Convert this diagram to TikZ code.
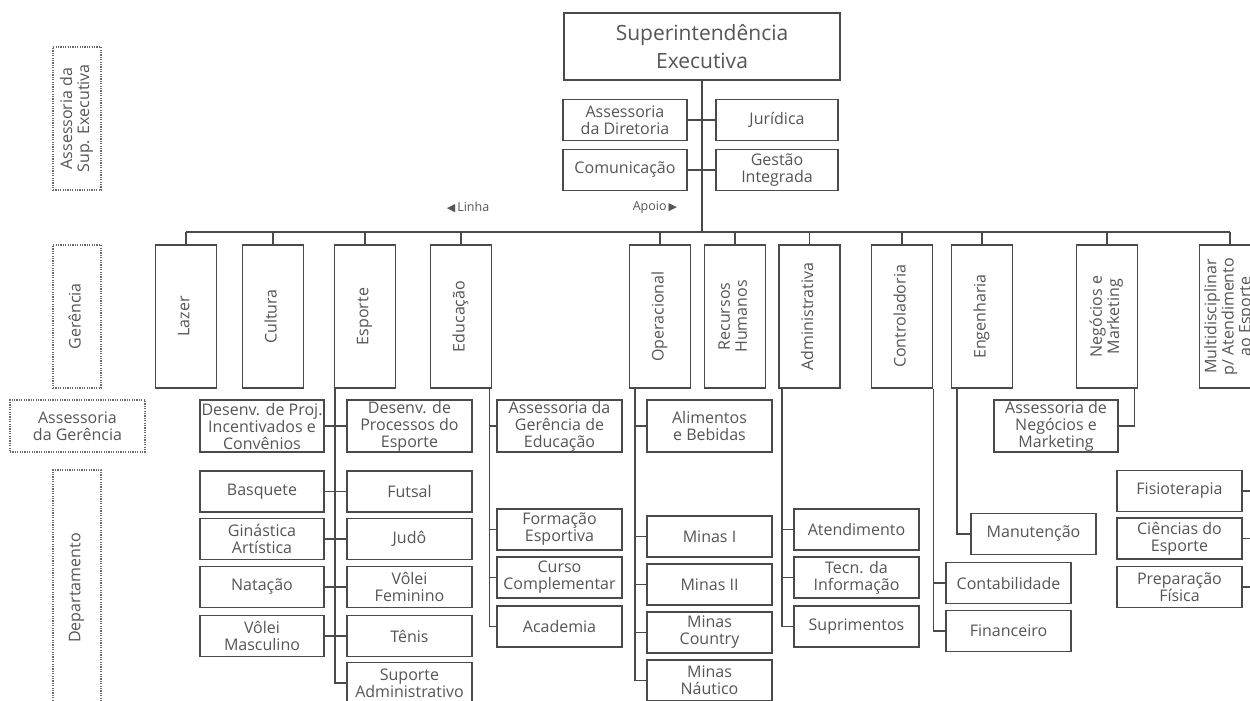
\documentclass[tikz,border=0pt]{standalone}
\usepackage{fontspec}
\setmainfont{Open Sans}
\newfontfamily\symfont{DejaVu Sans}
\usetikzlibrary{calc}
\definecolor{ln}{HTML}{4A4A4A}
\definecolor{tx}{HTML}{555555}
\definecolor{dt}{HTML}{6A6A6A}
\newcommand{\vtext}[1]{\rotatebox{90}{\begin{tabular}{@{}c@{}}#1\end{tabular}}}
\begin{document}
\begin{tikzpicture}[x=1pt,y=-1pt,
  conn/.style={draw=ln,line width=1.9pt},
  box/.style={draw=ln,line width=1.9pt,fill=white,rectangle,inner sep=1pt,align=center,text=tx,
    font=\fontsize{16}{17}\selectfont,minimum width=124pt,minimum height=41pt},
  tallbox/.style={box,minimum height=52pt},
  gbox/.style={box,minimum width=61pt,minimum height=143pt},
  topbox/.style={box,minimum width=276pt,minimum height=67pt,font=\fontsize{21}{28}\selectfont},
  lab/.style={draw=dt,line width=1.4pt,dash pattern=on 1.2pt off 1.2pt,rectangle,inner sep=1pt,align=center,text=tx,
    font=\fontsize{16}{17}\selectfont},
  small/.style={text=tx,inner sep=0pt,font=\fontsize{12.5}{14}\selectfont}]
\useasboundingbox (0,0) rectangle (1250,701);
\clip (0,0) rectangle (1250,701);

% left level labels
\node[lab,minimum width=48pt,minimum height=143pt] (lsup) at (77,118.5) {\vtext{Assessoria da\\Sup. Executiva}};
\node[lab,minimum width=48pt,minimum height=143pt] (lger) at (77,316.5) {\vtext{Gerência}};
\node[lab,minimum width=135pt,minimum height=52pt] (lass) at (77.5,426) {Assessoria\\da Gerência};
\node[lab,minimum width=48pt,minimum height=236pt] (ldep) at (77,588) {\vtext{Departamento}};

% top
\node[topbox] (sup) at (702,46.5) {Superintendência\\Executiva};
\node[box] (ad) at (625,120) {Assessoria\\da Diretoria};
\node[box,minimum width=122pt] (jur) at (777,120) {Jurídica};
\node[box] (com) at (625,170) {Comunicação};
\node[box,minimum width=122pt] (gi) at (777,170) {Gestão\\Integrada};

\node[small] (linha) at (468,207) {{\symfont\fontsize{11}{11}\selectfont ◀}\,Linha};
\node[small] (apoio) at (655,207) {Apoio\,{\symfont\fontsize{11}{11}\selectfont ▶}};

% gerencias
\node[gbox] (lazer) at (186,316.5) {\vtext{Lazer}};
\node[gbox] (cultura) at (273,316.5) {\vtext{Cultura}};
\node[gbox] (esp) at (365,316.5) {\vtext{Esporte}};
\node[gbox] (edu) at (461,316.5) {\vtext{Educação}};
\node[gbox] (op) at (660,316.5) {\vtext{Operacional}};
\node[gbox] (rh) at (735,316.5) {\vtext{Recursos\\Humanos}};
\node[gbox] (adm) at (809.5,316.5) {\vtext{Administrativa}};
\node[gbox] (contr) at (902,316.5) {\vtext{Controladoria}};
\node[gbox] (eng) at (982,316.5) {\vtext{Engenharia}};
\node[gbox] (neg) at (1107,316.5) {\vtext{Negócios e\\Marketing}};
\node[gbox] (multi) at (1230,316.5) {\vtext{Multidisciplinar\\p/ Atendimento\\ao Esporte}};

% trunk and bus
\coordinate (busL) at (186,232);
\coordinate (busR) at (1230,232);
\draw[conn] (sup.south) -- (sup.south |- busL);
\draw[conn] (ad.east) -- (jur.west);
\draw[conn] (com.east) -- (gi.west);
\draw[conn] (busL) -- (busR);
\foreach \g in {lazer,cultura,esp,edu,op,rh,adm,contr,eng,neg,multi}
  \draw[conn] (\g.north) -- (\g.north |- busL);

% assessorias da gerencia
\node[tallbox] (dpj) at (262,426) {Desenv. de Proj.\\Incentivados e\\Convênios};
\node[tallbox,minimum width=125pt] (dpp) at (409.5,426) {Desenv. de\\Processos do\\Esporte};
\node[tallbox,minimum width=125pt] (age) at (559.5,426) {Assessoria da\\Gerência de\\Educação};
\node[tallbox,minimum width=125pt] (alim) at (709.5,426) {Alimentos\\e Bebidas};
\node[tallbox] (anm) at (1056,426) {Assessoria de\\Negócios e\\Marketing};

% Esporte departamentos
\node[box] (basq) at (262,491.5) {Basquete};
\node[box] (gin) at (262,539) {Ginástica\\Artística};
\node[box] (nat) at (262,587) {Natação};
\node[box] (vm) at (262,636) {Vôlei\\Masculino};
\node[box,minimum width=125pt] (fut) at (409.5,491.5) {Futsal};
\node[box,minimum width=125pt] (jud) at (409.5,539) {Judô};
\node[box,minimum width=125pt] (vf) at (409.5,587) {Vôlei\\Feminino};
\node[box,minimum width=125pt] (ten) at (409.5,636) {Tênis};
\node[box,minimum width=125pt] (supa) at (409.5,683) {Suporte\\Administrativo};

% Educacao
\node[box,minimum width=125pt] (form) at (559.5,529.5) {Formação\\Esportiva};
\node[box,minimum width=125pt] (curso) at (559.5,577.5) {Curso\\Complementar};
\node[box,minimum width=125pt] (acad) at (559.5,626.5) {Academia};

% Operacional
\node[box,minimum width=125pt] (m1) at (709.5,536.5) {Minas I};
\node[box,minimum width=125pt] (m2) at (709.5,584.5) {Minas II};
\node[box,minimum width=125pt] (mc) at (709.5,632.5) {Minas\\Country};
\node[box,minimum width=125pt] (mn) at (709.5,680.5) {Minas\\Náutico};

% Administrativa
\node[box,minimum width=125pt] (atend) at (856.5,529.5) {Atendimento};
\node[box,minimum width=125pt] (tecn) at (856.5,577.5) {Tecn. da\\Informação};
\node[box,minimum width=125pt] (supr) at (856.5,626.5) {Suprimentos};

% Controladoria
\node[box,minimum width=125pt] (contab) at (1008.5,583) {Contabilidade};
\node[box,minimum width=125pt] (fin) at (1008.5,631) {Financeiro};

% Engenharia
\node[box,minimum width=125pt] (manut) at (1033.5,534) {Manutenção};

% Multidisciplinar
\node[box,minimum width=125pt] (fisio) at (1179.5,491) {Fisioterapia};
\node[box,minimum width=125pt] (cien) at (1179.5,538.5) {Ciências do\\Esporte};
\node[box,minimum width=125pt] (prep) at (1179.5,587) {Preparação\\Física};

% spines
\coordinate (sE) at ($(esp.south west)+(1,0)$);
\draw[conn] (sE) |- (supa.west);
\foreach \a/\b in {dpj/dpp,basq/fut,gin/jud,nat/vf,vm/ten}
  \draw[conn] (\a.east) -- (\b.west);

\coordinate (sEd) at ($(edu.south east)+(-3,0)$);
\draw[conn] (sEd) |- (acad.west);
\foreach \b in {age,form,curso}
  \draw[conn] (\b.west) -- (\b.west -| sEd);

\coordinate (sOp) at ($(op.south west)+(6,0)$);
\draw[conn] (sOp) |- (mn.west);
\foreach \b in {alim,m1,m2,mc}
  \draw[conn] (\b.west) -- (\b.west -| sOp);

\coordinate (sAd) at ($(adm.south west)+(4,0)$);
\draw[conn] (sAd) |- (supr.west);
\foreach \b in {atend,tecn}
  \draw[conn] (\b.west) -- (\b.west -| sAd);

\coordinate (sCo) at ($(contr.south east)+(0,0)$);
\draw[conn] (sCo) |- (fin.west);
\draw[conn] (contab.west) -- (contab.west -| sCo);

\coordinate (sEn) at ($(eng.south west)+(6,0)$);
\draw[conn] (sEn) |- (manut.west);

\coordinate (sNe) at ($(neg.south east)+(-4,0)$);
\draw[conn] (sNe) |- (anm.east);

\coordinate (sMu) at ($(multi.south east)+(-5,0)$);
\draw[conn] (sMu) |- (prep.east);
\foreach \b in {fisio,cien}
  \draw[conn] (\b.east) -- (\b.east -| sMu);
\end{tikzpicture}
\end{document}
